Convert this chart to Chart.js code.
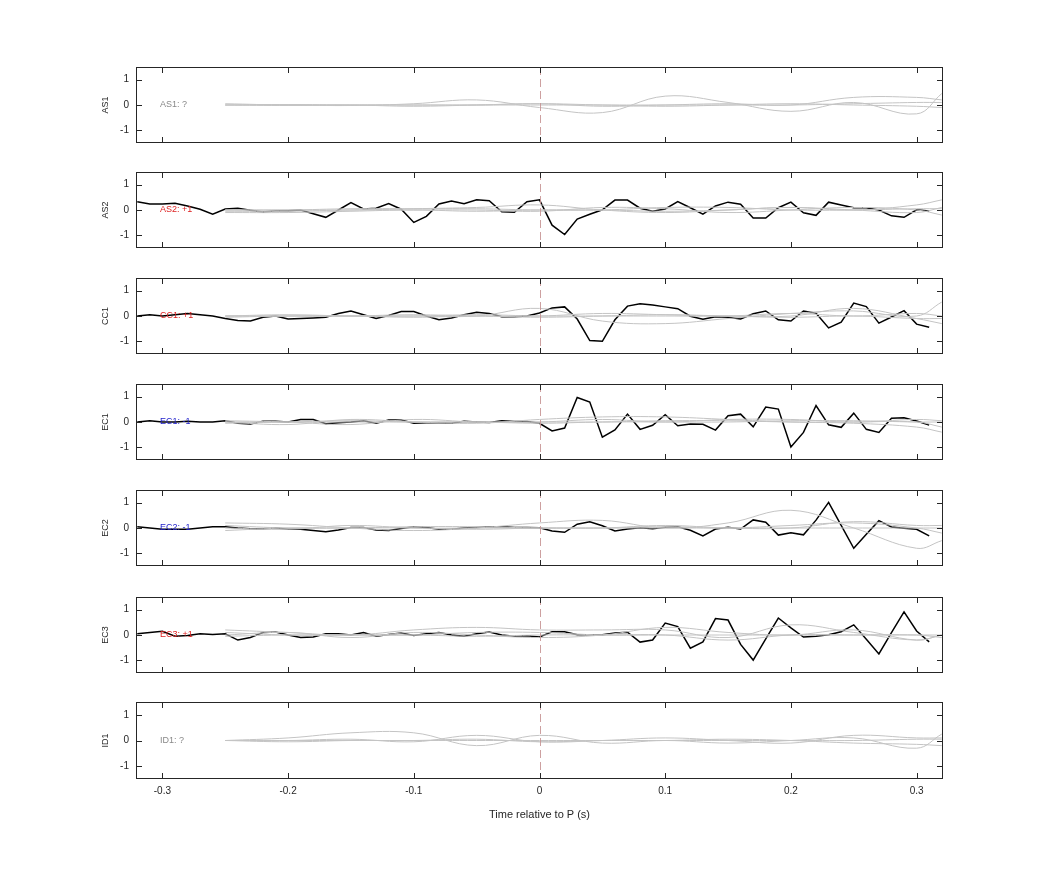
<!DOCTYPE html>
<html><head><meta charset="utf-8">
<script src="https://cdn.jsdelivr.net/npm/chart.js@4/dist/chart.umd.min.js"></script>
<style>body{margin:0;background:#fff;width:1042px;height:875px;position:relative;overflow:hidden}
.p{position:absolute;left:0;width:1042px}</style></head><body>
<script>
const times=[-0.32,-0.31,-0.30,-0.29,-0.28,-0.27,-0.26,-0.25,-0.24,-0.23,-0.22,-0.21,-0.20,-0.19,-0.18,-0.17,-0.16,-0.15,-0.14,-0.13,-0.12,-0.11,-0.10,-0.09,-0.08,-0.07,-0.06,-0.05,-0.04,-0.03,-0.02,-0.01,0,0.01,0.02,0.03,0.04,0.05,0.06,0.07,0.08,0.09,0.10,0.11,0.12,0.13,0.14,0.15,0.16,0.17,0.18,0.19,0.20,0.21,0.22,0.23,0.24,0.25,0.26,0.27,0.28,0.29,0.30,0.31];
const greyTimes=[-0.25,-0.2,-0.15,-0.1,-0.05,0,0.05,0.1,0.15,0.2,0.25,0.3,0.32];
const xTicks=[-0.3,-0.2,-0.1,0,0.1,0.2,0.3];
const yTicks=[-1,0,1];
const channels=["AS1","AS2","CC1","EC1","EC2","EC3","ID1"];
const labels=["AS1: ?","AS2: +1","CC1: +1","EC1: -1","EC2: -1","EC3: +1","ID1: ?"];
const labelColors=["#888888","#dd2222","#dd2222","#2222cc","#2222cc","#dd2222","#888888"];
const as2=[0.33,0.24,0.24,0.27,0.16,0.03,-0.17,0.04,0.07,-0.01,-0.08,-0.03,-0.03,0,-0.15,-0.29,0,0.29,0.04,0.07,0.25,0.03,-0.49,-0.25,0.24,0.35,0.25,0.4,0.37,-0.07,-0.09,0.33,0.4,-0.6,-0.97,-0.36,-0.17,0.01,0.39,0.39,0.07,-0.05,0.04,0.33,0.09,-0.16,0.16,0.31,0.23,-0.32,-0.32,0.09,0.31,-0.11,-0.21,0.31,0.2,0.09,0.09,0,-0.23,-0.29,0.01,-0.04];
const cc1=[0,0.05,0,0.05,0.1,0.05,0,-0.1,-0.18,-0.2,-0.05,0,-0.12,-0.1,-0.08,-0.05,0.1,0.2,0.05,-0.1,0.02,0.18,0.18,0,-0.15,-0.08,0.05,0.15,0.1,-0.03,-0.03,0,0.12,0.32,0.36,-0.12,-0.97,-1.0,-0.15,0.39,0.48,0.43,0.36,0.29,-0.01,-0.13,-0.03,-0.05,-0.12,0.09,0.2,-0.15,-0.2,0.2,0.11,-0.47,-0.24,0.51,0.37,-0.28,-0.04,0.21,-0.32,-0.44];
const ec1=[0,0.05,0,0,0.03,0,0,0.05,-0.05,-0.08,0.03,0.03,0,0.1,0.1,-0.07,-0.03,0,0.05,-0.05,0.08,0.08,-0.05,-0.03,-0.03,-0.05,0.03,0,-0.02,0.05,0.02,0.02,-0.05,-0.35,-0.24,0.97,0.79,-0.6,-0.31,0.31,-0.29,-0.13,0.29,-0.15,-0.08,-0.09,-0.32,0.25,0.31,-0.19,0.59,0.51,-0.99,-0.41,0.65,-0.11,-0.21,0.35,-0.29,-0.41,0.15,0.17,0.04,-0.12];
const ec2=[0.05,0,-0.05,-0.05,-0.05,0,0.05,0.05,0,-0.03,-0.03,0,-0.05,-0.05,-0.1,-0.15,-0.08,0.02,0.02,-0.08,-0.1,-0.02,0.05,0.02,-0.05,-0.05,0,0.02,0.05,0.05,0.02,0.02,0.01,-0.12,-0.17,0.15,0.25,0.09,-0.12,-0.04,0.01,-0.03,0.03,0.05,-0.09,-0.31,-0.04,0.03,-0.04,0.32,0.23,-0.28,-0.19,-0.27,0.31,1.01,0.1,-0.8,-0.25,0.29,0.04,-0.01,-0.05,-0.31];
const ec3=[0.05,0.1,0.15,-0.05,-0.02,0.05,0.02,0.05,-0.2,-0.1,0.1,0.12,0,-0.1,-0.08,0.05,0.05,0,0.1,-0.05,0.02,0.08,-0.02,0.05,0.1,0,-0.05,0.05,0.12,0,-0.05,-0.03,-0.08,0.13,0.13,0.01,0.01,0.01,0.08,0.11,-0.28,-0.2,0.47,0.33,-0.52,-0.27,0.65,0.59,-0.37,-0.99,-0.15,0.67,0.28,-0.08,-0.05,0.01,0.13,0.4,-0.17,-0.75,0.09,0.91,0.16,-0.27];
const as1Grey=[[0,0,-0.02,0.05,0.2,-0.1,-0.3,0.35,0.1,-0.25,0.1,-0.35,0.45],[0.05,0,0,-0.05,0,0.05,-0.05,0,0.05,0,0.3,0.3,0.2],[0,0.02,0,0,0,0,0,0,0,0,0.05,0.1,0.1],[0,-0.02,0,0,0,0.05,0,-0.05,0,0.05,0,-0.05,-0.1]];
const as2Grey=[[0,0,0,0.05,0.1,0.2,0,-0.1,0,0.1,0,0.2,0.4],[-0.05,-0.05,0,0,0,-0.05,0.1,0.05,-0.1,0,0.1,0,-0.2],[0,0,0.05,0.05,0.05,0,0,0.1,0.1,0,0,0.05,0.05],[-0.1,-0.1,-0.05,0,-0.05,0,0,-0.05,0,0.1,0,-0.1,0.1]];
const cc1Grey=[[0,0,0,0,0,0.3,-0.2,-0.3,-0.1,0.1,0.2,0,0.55],[0,0,0,0.05,0,0,0.1,0.05,0,0,0.3,-0.1,-0.3],[0,0.05,0,0,0.05,0,0,0,0,0.1,0,0.1,0],[-0.05,0,0,-0.05,0,-0.05,0,0.05,0,-0.05,0,-0.1,-0.1]];
const ec1Grey=[[0,-0.1,0.1,0,-0.05,0.1,0.2,0.2,0.1,0,-0.05,-0.2,-0.4],[0.05,0,-0.1,0.1,0,0,0.1,0,0.1,0.1,0,0.1,0.05],[0,0,0,0,0,0,0,0.05,0.05,0,0,0,-0.2],[-0.05,0,0.05,0,0,-0.05,0,0,0,0.05,0.05,0,0]];
const ec2Grey=[[0.2,0.15,0,-0.1,0,0.2,0.3,0,0.2,0.7,0,-0.8,-0.5],[0,-0.05,0.1,0,0,0,0,0.1,0,0,0.25,0.1,0.1],[-0.1,0,0,0,-0.05,0,0,0,0,0,0,0,0],[0.1,0,0,0.05,0.05,0,0,0.05,0,0.1,0.2,0,-0.2]];
const ec3Grey=[[0.2,0.1,0,0.2,0.3,0.2,0.2,0.2,-0.1,0.4,0.1,-0.2,0],[0,0.1,-0.1,0.1,0,-0.1,0,0.3,0.1,0,0.2,-0.2,0],[0.1,0,0,0,0.1,0.1,0,0,0,0,0,0,0],[-0.05,0,0,0,-0.05,0,0,0,-0.2,0,0,0,-0.1]];
const id1Grey=[[0,0.1,0.3,0.3,-0.2,0.2,-0.1,0,-0.1,0,0.1,-0.3,0.25],[0,0,0.05,-0.05,0.2,-0.05,0,0.1,0,-0.1,0.2,0.1,0.1],[0,0,0,0,0,0,0,0,0,0,0,0.05,0.05],[0,-0.05,0,0,0.05,-0.05,0,0,0.05,0,-0.1,-0.15,-0.2]];
const blacks=[null,as2,cc1,ec1,ec2,ec3,null];
const greys=[as1Grey,as2Grey,cc1Grey,ec1Grey,ec2Grey,ec3Grey,id1Grey];
const tops=[67,172,278,384,490,597,702];
const font="'Liberation Sans', Arial, sans-serif";

const framePlugin={id:'frame',afterDatasetsDraw(c,a,o){
  const {ctx,chartArea:ca,scales:{x,y}}=c;
  ctx.save();
  const zx=Math.round(x.getPixelForValue(0))+0.5;
  ctx.strokeStyle='rgba(200,150,150,0.9)';ctx.lineWidth=1;ctx.setLineDash([8,4]);
  ctx.beginPath();ctx.moveTo(zx,ca.top);ctx.lineTo(zx,ca.bottom);ctx.stroke();
  ctx.setLineDash([]);
  ctx.strokeStyle='#262626';
  ctx.strokeRect(ca.left+0.5,ca.top+0.5,ca.width-1,ca.height-1);
  ctx.beginPath();
  xTicks.forEach(v=>{const px=Math.round(x.getPixelForValue(v))+0.5;ctx.moveTo(px,ca.top);ctx.lineTo(px,ca.top+6);ctx.moveTo(px,ca.bottom);ctx.lineTo(px,ca.bottom-6);});
  yTicks.forEach(v=>{const py=Math.round(y.getPixelForValue(v))+0.5;ctx.moveTo(ca.left,py);ctx.lineTo(ca.left+6,py);ctx.moveTo(ca.right,py);ctx.lineTo(ca.right-6,py);});
  ctx.stroke();
  ctx.fillStyle='#262626';ctx.font='10px '+font;ctx.textBaseline='middle';ctx.textAlign='right';
  yTicks.forEach(v=>ctx.fillText(String(v),ca.left-7,y.getPixelForValue(v)));
  ctx.save();ctx.translate(ca.left-30,(ca.top+ca.bottom)/2);ctx.rotate(-Math.PI/2);
  ctx.textAlign='center';ctx.font='9px '+font;ctx.fillText(o.name,0,0);ctx.restore();
  if(o.last){
    ctx.textAlign='center';ctx.textBaseline='top';ctx.font='10px '+font;
    xTicks.forEach(v=>ctx.fillText(String(v),x.getPixelForValue(v),ca.bottom+7));
    ctx.font='11px '+font;
    ctx.fillText('Time relative to P (s)',x.getPixelForValue(0),ca.bottom+30);
  }
  ctx.font='9px '+font;ctx.fillStyle=o.color;ctx.textBaseline='middle';ctx.textAlign='left';
  ctx.fillText(o.text,x.getPixelForValue(-0.302),y.getPixelForValue(0));
  ctx.restore();
}};

channels.forEach((ch,i)=>{
  const last=i===6;
  const div=document.createElement('div');div.className='p';
  const h=last?130:76;
  div.style.top=tops[i]+'px';div.style.height=h+'px';
  const cv=document.createElement('canvas');div.appendChild(cv);document.body.appendChild(div);
  const ds=[];
  greys[i].forEach(g=>ds.push({data:greyTimes.map((t,k)=>({x:t,y:g[k]})),borderColor:'#c4c4c4',borderWidth:1,pointRadius:0,tension:0.4}));
  if(blacks[i]) ds.push({data:times.map((t,k)=>({x:t,y:blacks[i][k]})),borderColor:'#000',borderWidth:1.5,pointRadius:0,tension:0});
  new Chart(cv,{type:'line',data:{datasets:ds},plugins:[framePlugin],
    options:{responsive:true,maintainAspectRatio:false,animation:false,
      layout:{padding:{left:136,right:99,top:0,bottom:last?53:0}},
      plugins:{legend:{display:false},tooltip:{enabled:false},frame:{text:labels[i],color:labelColors[i],name:ch,last:last}},
      scales:{
        x:{type:'linear',display:false,min:-0.321,max:0.321},
        y:{display:false,min:-1.5,max:1.5}
      }}});
});
</script></body></html>
